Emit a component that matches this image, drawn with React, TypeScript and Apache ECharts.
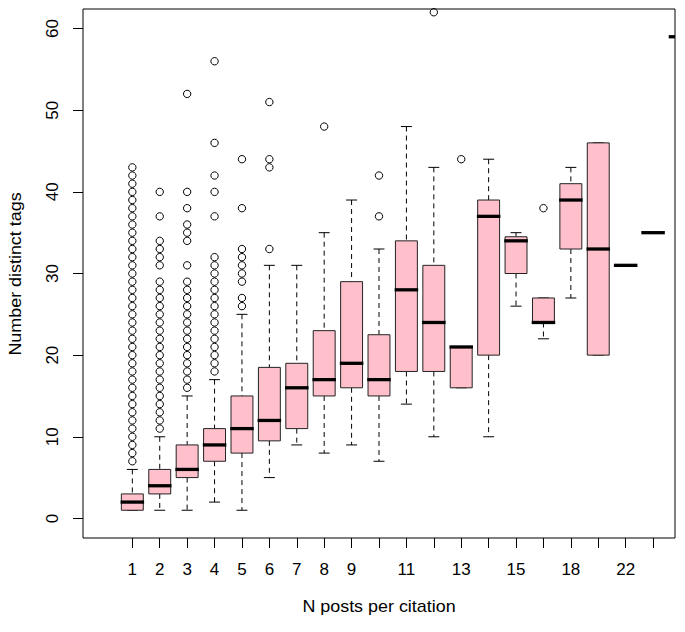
import React, { useEffect, useRef } from "react";
import * as echarts from "echarts";

// Group labels (positions 1..21 on the x axis)
const categories = ["1", "2", "3", "4", "5", "6", "7", "8", "9", "10", "11", "12", "13", "14", "15", "16", "18", "20", "22", "25", "30"];
// Tick positions whose labels are printed (others hidden to avoid overlap, as in R)
const labelledPositions = [1, 2, 3, 4, 5, 6, 7, 8, 9, 11, 13, 15, 17, 19];
const tickPositions = [1, 2, 3, 4, 5, 6, 7, 8, 9, 10, 11, 12, 13, 14, 15, 16, 17, 18, 19, 20];
const yTicks = [0, 10, 20, 30, 40, 50, 60];

// Five-number summaries per group
const lowerWhisker = [1, 1, 1, 2, 1, 5, 9, 8, 9, 7, 14, 10, 16, 10, 26, 22, 27, 20, 31, 35, 59];
const q1 = [1, 3, 5, 7, 8, 9.5, 11, 15, 16, 15, 18, 18, 16, 20, 30, 24, 33, 20, 31, 35, 59];
const median = [2, 4, 6, 9, 11, 12, 16, 17, 19, 17, 28, 24, 21, 37, 34, 24, 39, 33, 31, 35, 59];
const q3 = [3, 6, 9, 11, 15, 18.5, 19, 23, 29, 22.5, 34, 31, 21, 39, 34.5, 27, 41, 46, 31, 35, 59];
const upperWhisker = [6, 10, 15, 17, 25, 31, 31, 35, 39, 33, 48, 43, 21, 44, 35, 27, 43, 46, 31, 35, 59];

// Outliers per group
const outliers: number[][] = [
  [7, 8, 9, 10, 11, 12, 13, 14, 15, 16, 17, 18, 19, 20, 21, 22, 23, 24, 25, 26, 27, 28, 29, 30, 31, 32, 33, 34, 35, 36, 37, 38, 39, 40, 41, 42, 43],
  [11, 12, 13, 14, 15, 16, 17, 18, 19, 20, 21, 22, 23, 24, 25, 26, 27, 28, 29, 31, 32, 33, 34, 37, 40],
  [16, 17, 18, 19, 20, 21, 22, 23, 24, 25, 26, 27, 28, 29, 31, 34, 35, 36, 38, 40, 52],
  [18, 19, 20, 21, 22, 23, 24, 25, 26, 27, 28, 29, 30, 31, 32, 37, 40, 42, 46, 56],
  [26, 27, 29, 30, 31, 32, 33, 38, 44],
  [33, 43, 44, 51],
  [],
  [48],
  [],
  [37, 42],
  [],
  [62],
  [44],
  [],
  [],
  [38],
  [],
  [],
  [],
  [],
  [],
];

const FONT = "'Liberation Sans', Arial, Helvetica, sans-serif";

export default function App() {
  const ref = useRef<HTMLDivElement>(null);

  useEffect(() => {
    if (!ref.current) return;
    const chart = echarts.init(ref.current, undefined, { renderer: "svg" });

    const boxData = categories.map((_, i) => [
      i + 1,
      lowerWhisker[i],
      q1[i],
      median[i],
      q3[i],
      upperWhisker[i],
    ]);
    const outlierData: number[][] = [];
    outliers.forEach((list, i) => list.forEach((v) => outlierData.push([i + 1, v])));

    const renderItem = (params: any, api: any) => {
      const x = api.value(0);
      const lo = api.value(1);
      const a = api.value(2);
      const m = api.value(3);
      const b = api.value(4);
      const hi = api.value(5);
      const boxW = api.size([0.8, 0], [x, m])[0];
      const capW = api.size([0.4, 0], [x, m])[0];
      const pLo = api.coord([x, lo]);
      const pA = api.coord([x, a]);
      const pM = api.coord([x, m]);
      const pB = api.coord([x, b]);
      const pHi = api.coord([x, hi]);
      const cx = pM[0];
      const children: any[] = [];
      const dashStyle = { stroke: "#000", lineWidth: 1, lineDash: [5, 4], fill: null };
      if (hi > b) {
        children.push({ type: "line", shape: { x1: cx, y1: pHi[1], x2: cx, y2: pB[1] }, style: dashStyle });
      }
      if (lo < a) {
        children.push({ type: "line", shape: { x1: cx, y1: pA[1], x2: cx, y2: pLo[1] }, style: dashStyle });
      }
      children.push({
        type: "line",
        shape: { x1: cx - capW / 2, y1: pHi[1], x2: cx + capW / 2, y2: pHi[1] },
        style: { stroke: "#000", lineWidth: 1 },
      });
      children.push({
        type: "line",
        shape: { x1: cx - capW / 2, y1: pLo[1], x2: cx + capW / 2, y2: pLo[1] },
        style: { stroke: "#000", lineWidth: 1 },
      });
      children.push({
        type: "rect",
        shape: { x: cx - boxW / 2, y: pB[1], width: boxW, height: pA[1] - pB[1] },
        style: { fill: "#FFC0CB", stroke: "#222", lineWidth: 1 },
      });
      children.push({
        type: "line",
        shape: { x1: cx - boxW / 2 - 0.8, y1: pM[1], x2: cx + boxW / 2 + 0.8, y2: pM[1] },
        style: { stroke: "#000", lineWidth: 3.3 },
      });
      return { type: "group", children };
    };

    const option: any = {
      animation: false,
      backgroundColor: "#fff",
      grid: {
        left: 83,
        right: 10,
        top: 9,
        bottom: 94,
        show: true,
        borderColor: "#000",
        borderWidth: 1,
        backgroundColor: "transparent",
        containLabel: false,
      },
      xAxis: {
        type: "value",
        min: -0.8,
        max: 20.8,
        axisLine: { show: false, onZero: false },
        splitLine: { show: false },
        axisTick: {
          show: true,
          inside: false,
          length: 10,
          customValues: tickPositions,
          lineStyle: { color: "#000", width: 1 },
        },
        axisLabel: {
          show: true,
          customValues: labelledPositions,
          formatter: (v: number) => categories[Math.round(v) - 1] ?? "",
          color: "#000",
          fontSize: 17,
          fontFamily: FONT,
          margin: 23,
        },
      },
      yAxis: {
        type: "value",
        min: -2.4,
        max: 62.4,
        axisLine: { show: false, onZero: false },
        splitLine: { show: false },
        axisTick: {
          show: true,
          inside: false,
          length: 10,
          customValues: yTicks,
          lineStyle: { color: "#000", width: 1 },
        },
        axisLabel: {
          show: true,
          customValues: yTicks,
          rotate: 90,
          color: "#000",
          fontSize: 17,
          fontFamily: FONT,
          margin: 22,
        },
      },
      graphic: [
        {
          type: "text",
          x: 379,
          y: 607,
          scaleX: 1.12,
          style: {
            text: "N posts per citation",
            fill: "#000",
            font: `16px ${FONT}`,
            textAlign: "center",
            textVerticalAlign: "middle",
          },
        },
        {
          type: "text",
          x: 16,
          y: 274,
          rotation: Math.PI / 2,
          scaleX: 1.12,
          style: {
            text: "Number distinct tags",
            fill: "#000",
            font: `16px ${FONT}`,
            textAlign: "center",
            textVerticalAlign: "middle",
          },
        },
      ],
      series: [
        {
          type: "custom",
          name: "boxes",
          clip: true,
          renderItem,
          dimensions: ["pos", "low", "q1", "median", "q3", "high"],
          encode: { x: 0, y: [1, 2, 3, 4, 5] },
          data: boxData,
          z: 2,
        },
        {
          type: "scatter",
          name: "outliers",
          clip: true,
          symbol: "circle",
          symbolSize: 7.4,
          itemStyle: { color: "transparent", borderColor: "#000", borderWidth: 1, opacity: 1 },
          data: outlierData,
          z: 3,
        },
      ],
    };

    chart.setOption(option);
    return () => chart.dispose();
  }, []);

  return (
    <div
      ref={ref}
      style={{ position: "fixed", left: 0, top: 0, width: 685, height: 632, background: "#fff" }}
    />
  );
}
